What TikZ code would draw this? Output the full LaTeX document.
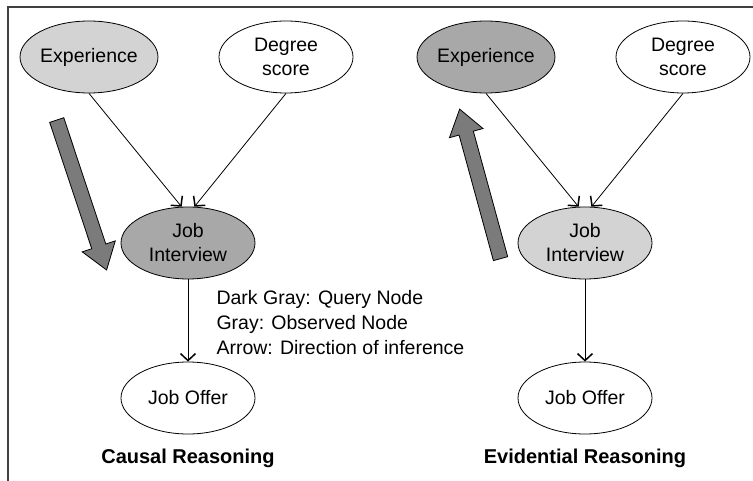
\documentclass[tikz,border=0pt]{standalone}
\usepackage{fontspec}
\setmainfont{Liberation Sans}
\usetikzlibrary{shapes}
\usetikzlibrary{arrows.meta}
\definecolor{obsgray}{HTML}{D3D3D3}
\definecolor{querygray}{HTML}{A8A8A8}
\definecolor{infgray}{HTML}{7B7B7B}
\tikzset{vertex/.style={ellipse, draw, line width=0.8pt, inner sep=0pt, minimum width=134pt, minimum height=72pt, align=center, font=\fontsize{19.5}{24}\selectfont}}
\tikzset{infer/.style={single arrow, draw, line width=0.8pt, fill=infgray, inner xsep=0pt, inner ysep=7pt, single arrow head extend=10pt, single arrow tip angle=70}}
\tikzset{link/.style={line width=0.8pt, -{Straight Barb[length=7pt,width=15pt,line width=1.5pt]}}}

\begin{document}
\begin{tikzpicture}[x=1pt,y=-1pt]
    \useasboundingbox (0,0) rectangle (753,481);
    \draw[line width=1.5pt, black!75] (8,481) -- (8,7) -- (753,7);
    \foreach \x/\y/\lab/\col/\tx in {
      89/57/ExpL/obsgray/Experience,
      286/57/DegL/white/Degree\\score,
      188/243/JobL/querygray/Job\\Interview,
      188/398/OffL/white/Job Offer,
      486/57/ExpR/querygray/Experience,
      683/57/DegR/white/Degree\\score,
      585/243/JobR/obsgray/Job\\Interview,
      585/398/OffR/white/Job Offer%
    } {
      \node[vertex, fill=\col] (\lab) at (\x, \y) {\tx};
    }
    \foreach \s in {L,R} {
      \draw[link] (Exp\s.south) -- (Job\s.100);
      \draw[link] (Deg\s.south) -- (Job\s.80);
      \draw[link] (Job\s) -- (Off\s);
    }
    % direction of inference
    \node[infer, minimum height=158pt, rotate=-71.6] (infL) at (80,190) {};
    \node[infer, minimum height=155pt, rotate=105.3] (infR) at (481.5,189) {};
    \node[anchor=west, align=left, font=\fontsize{19.5}{25}\selectfont] (legend) at (213,323)
      {Dark Gray: Query Node\\Gray: Observed Node\\Arrow: Direction of inference};
    \node[font=\bfseries\fontsize{20}{24}\selectfont] (titleL) at (188,458) {Causal Reasoning};
    \node[font=\bfseries\fontsize{20}{24}\selectfont] (titleR) at (585,458) {Evidential Reasoning};
  \end{tikzpicture}
\end{document}
